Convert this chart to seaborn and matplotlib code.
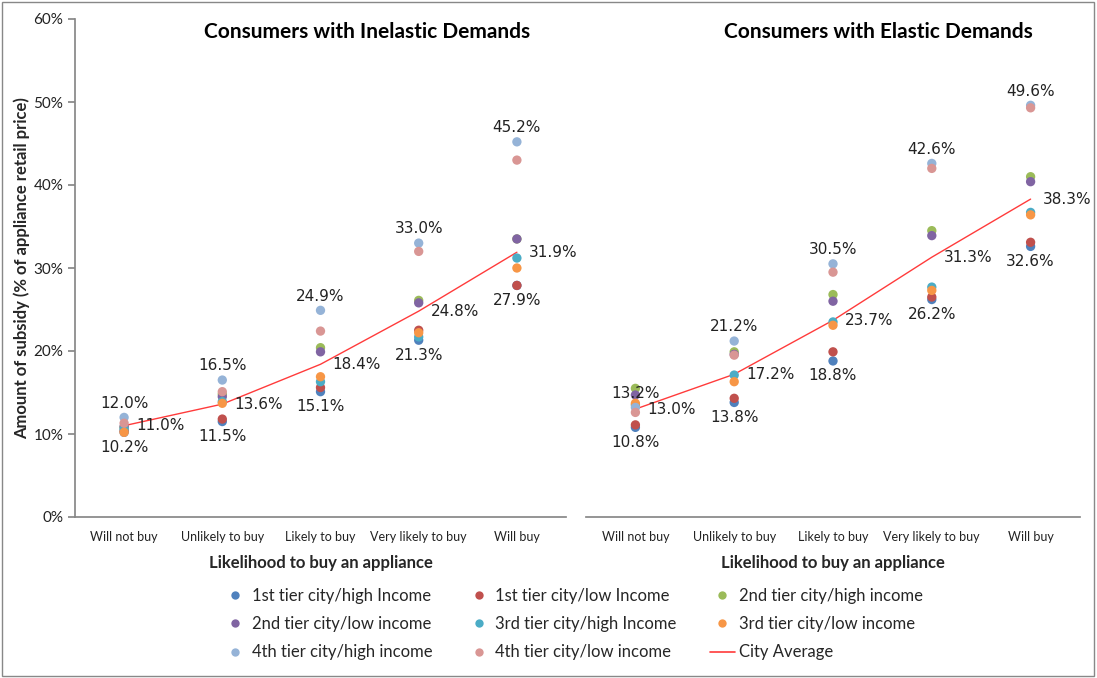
import matplotlib
matplotlib.use("Agg")
import matplotlib.pyplot as plt
import seaborn as sns
import pandas as pd
from matplotlib.patches import Rectangle
from matplotlib.lines import Line2D

sns.set_theme(style="white")
plt.rcParams['font.family'] = ['Lato', 'DejaVu Sans']

categories = ["Will not buy", "Unlikely to buy", "Likely to buy", "Very likely to buy", "Will buy"]
series = ["1st tier city/high Income", "1st tier city/low Income", "2nd tier city/high income",
          "2nd tier city/low income", "3rd tier city/high Income", "3rd tier city/low income",
          "4th tier city/high income", "4th tier city/low income"]
colors = ["#4F81BD", "#C0504D", "#9BBB59", "#8064A2", "#4BACC6", "#F79646", "#95B3D7", "#D99694"]

# Inelastic demands (% of retail price)
inel_1h = [10.2, 11.5, 15.1, 21.3, 27.9]
inel_1l = [10.4, 11.8, 15.6, 22.5, 27.9]
inel_2h = [10.8, 14.8, 20.4, 26.1, 33.5]
inel_2l = [10.9, 14.5, 19.9, 25.8, 33.5]
inel_3h = [10.6, 13.9, 16.3, 21.7, 31.2]
inel_3l = [10.2, 13.7, 16.9, 22.2, 30.0]
inel_4h = [12.0, 16.5, 24.9, 33.0, 45.2]
inel_4l = [11.3, 15.1, 22.4, 32.0, 43.0]
inel_avg = [11.0, 13.6, 18.4, 24.8, 31.9]

# Elastic demands
el_1h = [10.8, 13.8, 18.8, 26.2, 32.6]
el_1l = [11.1, 14.3, 19.9, 26.5, 33.1]
el_2h = [15.5, 19.9, 26.8, 34.5, 41.0]
el_2l = [14.7, 19.6, 26.0, 33.9, 40.4]
el_3h = [13.5, 17.1, 23.5, 27.7, 36.7]
el_3l = [13.7, 16.3, 23.1, 27.3, 36.4]
el_4h = [13.2, 21.2, 30.5, 42.6, 49.6]
el_4l = [12.6, 19.5, 29.5, 42.0, 49.3]
el_avg = [13.0, 17.2, 23.7, 31.3, 38.3]

inel = [inel_1h, inel_1l, inel_2h, inel_2l, inel_3h, inel_3l, inel_4h, inel_4l]
el = [el_1h, el_1l, el_2h, el_2l, el_3h, el_3l, el_4h, el_4l]


def long_df(vals):
    rows = []
    for s, v in zip(series, vals):
        for i, c in enumerate(categories):
            rows.append({"x": i, "cat": c, "series": s, "value": v[i]})
    return pd.DataFrame(rows)


fig = plt.figure(figsize=(10.97, 6.78), dpi=100)
axL = fig.add_axes([75 / 1097, 1 - 517 / 678, 491 / 1097, 498 / 678])
axR = fig.add_axes([586 / 1097, 1 - 517 / 678, 494 / 1097, 498 / 678])

lab_font = dict(family='DejaVu Sans', fontsize=11, color='#222222')

for ax, vals, avg, title, tx in [(axL, inel, inel_avg, "Consumers with Inelastic Demands", 0.595),
                                 (axR, el, el_avg, "Consumers with Elastic Demands", 0.591)]:
    df = long_df(vals)
    sns.scatterplot(data=df, x="x", y="value", hue="series", palette=colors, hue_order=series,
                    s=45, edgecolor='none', ax=ax, legend=False, zorder=3)
    avg_df = pd.DataFrame({"x": range(len(categories)), "value": avg})
    sns.lineplot(data=avg_df, x="x", y="value", color="#FF3B3B", lw=1.0, ax=ax, zorder=2)
    for i in range(len(categories)):
        ax.text(i, vals[6][i] + 0.8, f"{vals[6][i]:.1f}%", ha='center', va='bottom', **lab_font)
        ax.text(i, vals[0][i] - 0.9, f"{vals[0][i]:.1f}%", ha='center', va='top', **lab_font)
        ax.text(i + 0.12, avg[i], f"{avg[i]:.1f}%", ha='left', va='center', **lab_font)
    ax.set_xlim(-0.5, 4.5)
    ax.set_ylim(0, 60)
    ax.set_xticks(range(len(categories)))
    ax.set_xticklabels(categories, fontsize=9)
    ax.set_xlabel("Likelihood to buy an appliance", fontsize=12, fontweight='bold', labelpad=9)
    ax.set_ylabel("")
    ax.text(tx, 0.974, title, transform=ax.transAxes, ha='center', va='center',
            fontsize=15, fontweight='bold', color='black')
    for sp in ['top', 'right']:
        ax.spines[sp].set_visible(False)
    ax.spines['bottom'].set_color('#888888')
    ax.spines['left'].set_color('#888888')
    ax.tick_params(axis='x', length=0, pad=10, colors='#222222')
    ax.patch.set_alpha(0)

axL.set_yticks(range(0, 61, 10))
axL.set_yticklabels([f"{v}%" for v in range(0, 61, 10)], fontsize=11)
axL.tick_params(axis='y', length=5, direction='out', colors='#222222', left=True)
axL.tick_params(axis='y', color='#888888')
axL.set_ylabel("Amount of subsidy (% of appliance retail price)", fontsize=12, fontweight='bold', labelpad=2)

axR.spines['left'].set_visible(False)
axR.set_yticks([])

handles = [Line2D([], [], marker='o', ls='none', color=c, markersize=6, markeredgewidth=0) for c in colors]
handles.append(Line2D([], [], color="#FF3B3B", lw=1.2))
labels = series + ["City Average"]
order = [0, 3, 6, 1, 4, 7, 2, 5, 8]
fig.legend([handles[i] for i in order], [labels[i] for i in order], ncol=3,
           loc='center', bbox_to_anchor=(573 / 1097, 1 - 624 / 678), frameon=False,
           fontsize=12, columnspacing=2.0, handlelength=1.5, handletextpad=0.25,
           labelspacing=0.75)

fig.patches.append(Rectangle((0.002, 0.003), 0.995, 0.994, transform=fig.transFigure,
                             fill=False, edgecolor='#888888', lw=1))

fig.savefig("out.png", dpi=100)
